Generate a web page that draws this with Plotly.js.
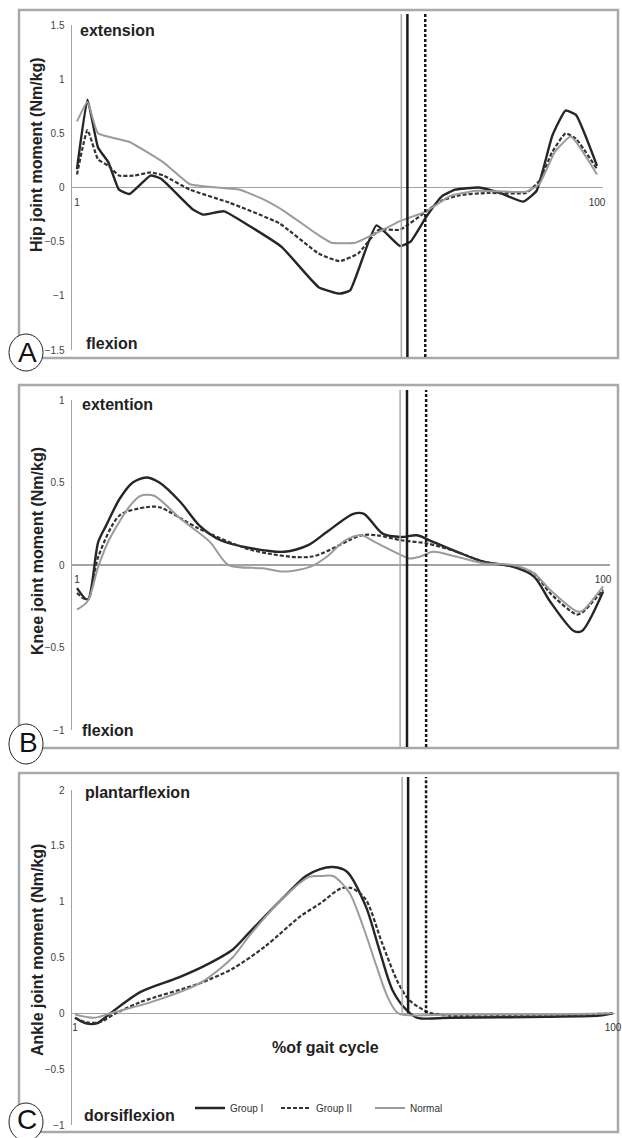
<!DOCTYPE html>
<html><head><meta charset="utf-8">
<script src="https://cdn.plot.ly/plotly-3.0.1.min.js"></script>
<style>html,body{margin:0;padding:0;background:#fff}#chart{width:622px;height:1138px}</style>
</head><body><div id="chart"></div>
<script>
// ---------------- data ----------------
const seriesNames = ['Group I', 'Group II', 'Normal'];
const xTickVals = [1, 100];
const xTickText = ['1', '100'];
const xTitle = '%of gait cycle';

// A: hip joint moment (Nm/kg) vs % gait cycle
const hipG1X = [1,3,5,7,9,11,15,17,23,25,29,34,40,47,51,53,58,62.5,64.5,67.5,70.5,73,77.5,81.5,86,88.5,91.5,94,96,100];
const hipG1Y = [0.17,0.81,0.37,0.23,-0.02,-0.06,0.11,0.08,-0.20,-0.25,-0.22,-0.36,-0.55,-0.92,-0.98,-0.95,-0.35,-0.54,-0.50,-0.27,-0.08,-0.02,0.00,-0.05,-0.13,-0.03,0.48,0.71,0.67,0.20];
const hipG2X = [1,3,5,7,9,12,15,17.5,22.5,30,39.5,47,51,54.5,58.5,62.5,67.5,70.5,74,79,86.5,89,91.5,94,96,100];
const hipG2Y = [0.12,0.53,0.26,0.20,0.11,0.11,0.14,0.11,-0.02,-0.14,-0.33,-0.61,-0.68,-0.61,-0.39,-0.39,-0.22,-0.12,-0.07,-0.05,-0.05,0.06,0.33,0.50,0.45,0.17];
const hipNX = [1,3,5,11,17.5,22.5,32,36.5,40.5,47,49.5,54,58,62.5,67.5,72,77,86.5,89,92,95,100];
const hipNY = [0.61,0.79,0.50,0.42,0.23,0.03,-0.02,-0.11,-0.22,-0.44,-0.51,-0.51,-0.42,-0.31,-0.22,-0.08,-0.03,-0.04,0.03,0.33,0.47,0.12];
const hipTicks = [-1.5,-1,-0.5,0,0.5,1,1.5];
const toeOffHip = [63.9, 67.3, 62.75];   // Group I, Group II, Normal

// B: knee joint moment
const kneeG1X = [1,3,5,6.5,9,11.5,14,16.5,20.5,24,28,34,40,44.5,48,53,55,58.5,62,65,68,72.5,77.5,83,87,90,94.5,96,100];
const kneeG1Y = [-0.14,-0.21,0.14,0.24,0.40,0.50,0.53,0.50,0.38,0.24,0.15,0.10,0.08,0.12,0.20,0.31,0.31,0.19,0.17,0.18,0.14,0.08,0.02,-0.01,-0.07,-0.22,-0.40,-0.40,-0.16];
const kneeG2X = [1,3,5,9,14,16.5,24,34,45,54.5,57.5,62,67,72.5,77.5,83,87,90,95,96,100];
const kneeG2Y = [-0.17,-0.21,0.05,0.30,0.35,0.35,0.22,0.09,0.05,0.18,0.18,0.15,0.13,0.08,0.02,-0.01,-0.05,-0.17,-0.30,-0.29,-0.15];
const kneeNX = [1,3,5,7,11,13,15.5,20.5,26,29.5,36,40,45,48,51.5,54.5,57,62,63.5,65.5,68,72.5,77.5,83,87,90,95,96,100];
const kneeNY = [-0.27,-0.22,-0.01,0.15,0.36,0.42,0.42,0.28,0.14,0.00,-0.02,-0.04,-0.01,0.05,0.15,0.18,0.14,0.06,0.04,0.05,0.08,0.05,0.01,0.00,-0.05,-0.15,-0.28,-0.28,-0.13];
const kneeTicks = [-1,-0.5,0,0.5,1];
const toeOffKnee = [63.1, 66.7, 61.8];

// C: ankle joint moment
const ankleG1X = [1,3,5,7.5,13,20,25,30,33,39,43.5,46,48.5,51,54.5,57,59.5,62,64,70,88,97.5,100];
const ankleG1Y = [-0.04,-0.09,-0.09,0.00,0.19,0.32,0.43,0.57,0.72,1.02,1.23,1.29,1.31,1.27,0.96,0.57,0.20,0.03,-0.04,-0.04,-0.03,-0.02,0.00];
const ankleG2X = [1,3,5.5,8.5,13,24,30,36,42.5,46,50,52,54.5,57.5,60.5,62.5,66,70,88,100];
const ankleG2Y = [-0.04,-0.08,-0.08,0.00,0.10,0.27,0.40,0.60,0.87,0.98,1.12,1.12,1.02,0.63,0.27,0.12,0.01,-0.02,-0.02,0.00];
const ankleNX = [1,4.5,7.5,15,24,30,33,39,44,46.5,48.5,51.5,54,56.5,58.5,60.5,70,88,100];
const ankleNY = [-0.01,-0.04,0.00,0.10,0.27,0.50,0.69,1.02,1.22,1.23,1.23,1.08,0.78,0.42,0.15,0.00,-0.01,-0.01,0.00];
const ankleTicks = [-1,-0.5,0,0.5,1,1.5,2];
const toeOffAnkle = [62.3, 65.6, 61.2];

// ---------------- layout helpers ----------------
const W = 622, H = 1138;
const fx = p => p / W;
const fy = p => 1 - p / H;
const FONT = 'Liberation Sans, Arial, Helvetica, sans-serif';
const boldFont = {size: 16, weight: 'bold', color: '#222'};

const styles = [
  {color: '#262626', width: 2.4},
  {color: '#333333', width: 2.2, dash: '4px,2px'},
  {color: '#9b9b9b', width: 2}
];
const vStyles = [
  {color: '#1a1a1a', width: 2.5},
  {color: '#1a1a1a', width: 2.5, dash: '3px,2px'},
  {color: '#aaaaaa', width: 1.5}
];
const legendOf = ['legend', 'legend2', 'legend3'];
const legendX = [190, 276, 370];

const panels = [
  {xs: [hipG1X, hipG2X, hipNX], ys: [hipG1Y, hipG2Y, hipNY], ticks: hipTicks, toe: toeOffHip,
   title: 'Hip joint moment (Nm/kg)', titleY: 155, yr: [-1.5, 1.5], ydom: [350, 25], xdom: [72, 603], xr: [0.05, 101.14],
   shape: {shape: 'spline', smoothing: 0.4}, box: [10, 358], vtop: 14, vbot: 357,
   top: 'extension', topY: 31, topX: 78, bot: 'flexion', botY: 343, botX: 84,
   letter: 'A', circ: [334, 371], lx: 27, ly: 352},
  {xs: [kneeG1X, kneeG2X, kneeNX], ys: [kneeG1Y, kneeG2Y, kneeNY], ticks: kneeTicks, toe: toeOffKnee,
   title: 'Knee joint moment (Nm/kg)', titleY: 551, yr: [-1, 1], ydom: [730, 400], xdom: [72, 610], xr: [0.06, 101.3],
   shape: {shape: 'spline', smoothing: 0.8}, box: [385, 748], vtop: 390, vbot: 747,
   top: 'extention', topY: 405, topX: 80, bot: 'flexion', botY: 730, botX: 80,
   letter: 'B', circ: [724, 764], lx: 28, ly: 742},
  {xs: [ankleG1X, ankleG2X, ankleNX], ys: [ankleG1Y, ankleG2Y, ankleNY], ticks: ankleTicks, toe: toeOffAnkle,
   title: 'Ankle joint moment (Nm/kg)', titleY: 950, yr: [-1, 2], ydom: [1125, 790], xdom: [72, 615], xr: [0.45, 100.37],
   shape: {shape: 'spline', smoothing: 0.8}, box: [773, 1132], vtop: 777, vbot: null,
   top: 'plantarflexion', topY: 792, topX: 83, bot: 'dorsiflexion', botY: 1115, botX: 82,
   letter: 'C', circ: [1103, 1141], lx: 27, ly: 1119}
];

const traces = [];
const shapes = [];
const annotations = [];
const layout = {
  width: W, height: H, margin: {l: 0, r: 0, t: 0, b: 0},
  paper_bgcolor: '#ffffff', plot_bgcolor: 'rgba(0,0,0,0)',
  font: {family: FONT, color: '#333'},
  showlegend: true, hovermode: false
};
legendOf.forEach((lg, s) => {
  layout[lg] = {orientation: 'h', xanchor: 'left', yanchor: 'middle', y: fy(1108), x: fx(legendX[s]),
    font: {size: 10, color: '#333'}, bgcolor: 'rgba(0,0,0,0)'};
});

panels.forEach((p, i) => {
  const n = i === 0 ? '' : String(i + 1);
  const xa = 'x' + n, ya = 'y' + n;
  const ydom = [fy(p.ydom[0]), fy(p.ydom[1])];
  const zeroPaper = ydom[0] + (0 - p.yr[0]) / (p.yr[1] - p.yr[0]) * (ydom[1] - ydom[0]);

  for (let s = 0; s < 3; s++) {
    traces.push({
      type: 'scatter', mode: 'lines', x: p.xs[s], y: p.ys[s], name: seriesNames[s],
      xaxis: xa, yaxis: ya, legendgroup: seriesNames[s], showlegend: i === 2, legend: legendOf[s],
      line: Object.assign({}, styles[s], p.shape)
    });
  }

  layout['xaxis' + n] = {
    domain: [fx(p.xdom[0]), fx(p.xdom[1])], range: p.xr, anchor: 'free', position: zeroPaper,
    showgrid: false, zeroline: false, showline: false,
    tickmode: 'array', tickvals: xTickVals, ticktext: xTickText,
    ticks: 'outside', ticklen: 5, tickcolor: 'rgba(0,0,0,0)',
    tickfont: {size: 10, color: '#333'}
  };
  layout['yaxis' + n] = {
    domain: ydom, range: p.yr, anchor: xa,
    showgrid: false, zeroline: true, zerolinecolor: '#a3a3a3', zerolinewidth: 1.5,
    showline: true, linecolor: '#a3a3a3', linewidth: 1.5,
    tickmode: 'array', tickvals: p.ticks,
    ticks: 'outside', ticklen: 4, tickcolor: 'rgba(0,0,0,0)',
    tickfont: {size: 10, color: '#444'}
  };

  // y-axis title (placed as in the reference, not centred on the axis)
  annotations.push({xref: 'paper', yref: 'paper', x: fx(37), y: fy(p.titleY), text: p.title,
    textangle: -90, showarrow: false, xanchor: 'center', yanchor: 'middle', font: boldFont});

  // panel frame
  shapes.push({type: 'rect', xref: 'paper', yref: 'paper', layer: 'below',
    x0: fx(19), x1: fx(618), y0: fy(p.box[1]), y1: fy(p.box[0]),
    line: {color: '#a9a9a9', width: 2.5}, fillcolor: 'rgba(0,0,0,0)'});

  // toe-off vertical lines (Normal first, then Group I, Group II)
  [2, 0, 1].forEach(s => {
    shapes.push({type: 'line', xref: xa, yref: 'paper',
      x0: p.toe[s], x1: p.toe[s],
      y0: p.vbot === null ? zeroPaper : fy(p.vbot), y1: fy(p.vtop),
      line: vStyles[s]});
  });

  // circled panel letter
  shapes.push({type: 'circle', xref: 'paper', yref: 'paper',
    x0: fx(9), x1: fx(43), y0: fy(p.circ[1]), y1: fy(p.circ[0]),
    line: {color: '#222', width: 1}, fillcolor: '#ffffff'});
  annotations.push({xref: 'paper', yref: 'paper', x: fx(p.lx), y: fy(p.ly), text: p.letter,
    showarrow: false, xanchor: 'center', yanchor: 'middle', font: {size: 28, color: '#111'}});

  annotations.push({xref: 'paper', yref: 'paper', x: fx(p.topX), y: fy(p.topY), text: p.top,
    showarrow: false, xanchor: 'left', yanchor: 'middle', font: boldFont});
  annotations.push({xref: 'paper', yref: 'paper', x: fx(p.botX), y: fy(p.botY), text: p.bot,
    showarrow: false, xanchor: 'left', yanchor: 'middle', font: boldFont});
});

// x-axis title of the bottom panel
annotations.push({xref: 'paper', yref: 'paper', x: fx(325), y: fy(1047), text: xTitle,
  showarrow: false, xanchor: 'center', yanchor: 'middle', font: boldFont});

layout.shapes = shapes;
layout.annotations = annotations;

Plotly.newPlot('chart', traces, layout, {staticPlot: true, displayModeBar: false});
</script></body></html>
